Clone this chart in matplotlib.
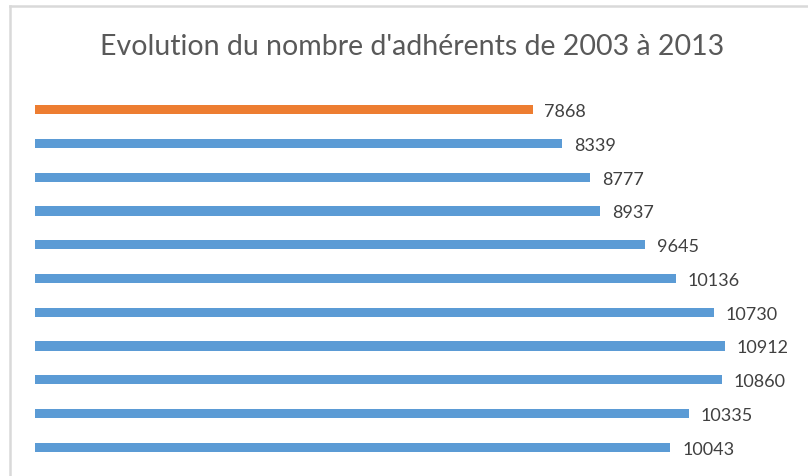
import numpy as np
import matplotlib
matplotlib.use('Agg')
import matplotlib.pyplot as plt
from matplotlib.lines import Line2D

# adherents, bottom (2003) to top (2013)
years = [2003, 2004, 2005, 2006, 2007, 2008, 2009, 2010, 2011, 2012, 2013]
adherents = [10043, 10335, 10860, 10912, 10730, 10136, 9645, 8937, 8777, 8339, 7868]
colors = ['#5B9BD5'] * 10 + ['#ED7D31']

plt.rcParams['font.family'] = ['Lato', 'DejaVu Sans']

fig = plt.figure(figsize=(8.08, 4.77), dpi=100)
ax = fig.add_axes([35/808, 1-465/477, (794-35)/808, (465-94)/477])

y = np.arange(len(years))
ax.barh(y, adherents, height=0.27, color=colors)
for yy, v in zip(y, adherents):
    ax.annotate(str(v), (v, yy), xytext=(8.5, -1), textcoords='offset points',
                va='center', ha='left', fontsize=13, color='#404040')

ax.set_xlim(0, 12000)
ax.set_ylim(-0.5, len(years)-0.5)
ax.axis('off')

fig.text(412/808, 1-47/477, "Evolution du nombre d'adhérents de 2003 à 2013",
         ha='center', va='center', fontsize=20.5, color='#595959')

# chart frame (top and left edge of the crop)
fig.add_artist(Line2D([9.5/808, 9.5/808], [0, 1-7/477], color='#d9d9d9', lw=1.8, transform=fig.transFigure))
fig.add_artist(Line2D([9.5/808, 1], [1-7/477, 1-7/477], color='#d9d9d9', lw=1.8, transform=fig.transFigure))

fig.savefig('out.png', dpi=100)
